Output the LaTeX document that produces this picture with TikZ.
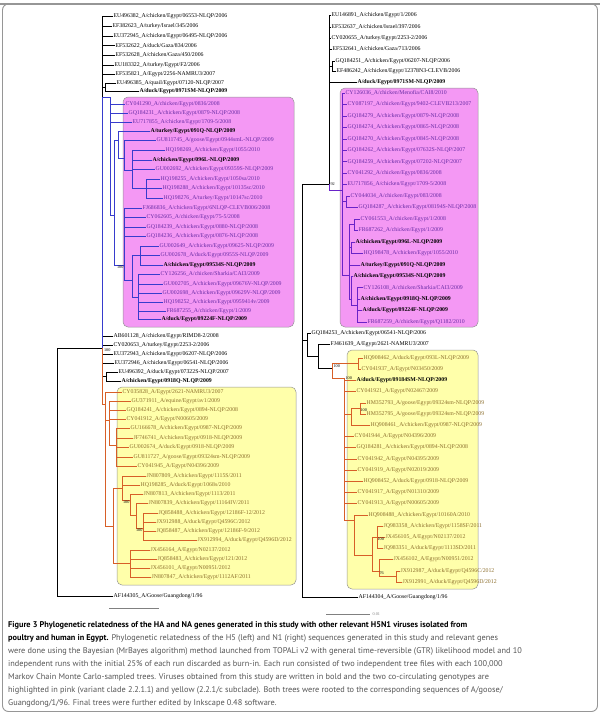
\documentclass[tikz,border=0pt]{standalone}
\usepackage{fontspec}
\setmainfont{Liberation Serif}
\setsansfont{PT Sans}
\newfontfamily\leaffont{Liberation Serif}
\definecolor{pinkbg}{RGB}{244,152,244}
\definecolor{yellowbg}{RGB}{255,255,170}
\definecolor{pinktxt}{RGB}{105,45,165}
\definecolor{yellowtxt}{RGB}{140,110,45}
\definecolor{hablue}{RGB}{55,60,205}
\definecolor{napurple}{RGB}{105,35,200}
\definecolor{orangebr}{RGB}{215,95,40}
\definecolor{captxt}{RGB}{85,85,85}
\definecolor{framegray}{RGB}{150,150,150}
\tikzstyle{leaf}=[anchor=west, inner sep=0.4pt, font=\leaffont\fontsize{5.8}{6}\selectfont]
\tikzstyle{bleaf}=[leaf, font=\leaffont\bfseries\fontsize{5.8}{6}\selectfont]
\tikzstyle{pleaf}=[leaf, text=pinktxt]
\tikzstyle{yleaf}=[leaf, text=yellowtxt]
\tikzstyle{br}=[line width=0.45pt]
\tikzstyle{bbr}=[br, draw=hablue]
\tikzstyle{pbr}=[br, draw=napurple]
\tikzstyle{obr}=[br, draw=orangebr]
\tikzstyle{clade}=[rounded corners=5pt, draw=framegray, line width=0.5pt]
\tikzstyle{boot}=[font=\leaffont\fontsize{4.2}{4.5}\selectfont, inner sep=0.4pt]
\tikzstyle{caption}=[anchor=north west, inner sep=0pt, align=left, text=captxt,
  font=\sffamily\fontsize{8.3}{12.9}\selectfont]

\begin{document}
\begin{tikzpicture}[x=1pt, y=-1pt]
    \useasboundingbox (0,0) rectangle (600,715);
    \draw[framegray, line width=0.9pt, rounded corners=6pt] (2.5,4) rectangle (597.5,711.5);
    \draw[framegray, line width=2pt] (0,4)--(600,4);

    \filldraw[clade, fill=pinkbg] (123,97) rectangle (294,327);
    \filldraw[clade, fill=yellowbg] (117,387) rectangle (296,585);
    \filldraw[clade, fill=pinkbg] (340,88) rectangle (478,327);
    \filldraw[clade, fill=yellowbg] (347,350) rectangle (478,589);

    % H5 tree
    \coordinate (hroot) at (57,472);
    \coordinate (hin) at (102,348);
    \coordinate (hg1) at (105,87);
    \coordinate (hp) at (110,97);
    \coordinate (hpA) at (114,215);
    \coordinate (hpB) at (118,140);
    \coordinate (hpB1) at (124,158);
    \coordinate (hpB2) at (132,170);
    \coordinate (hpB3) at (146,188);
    \coordinate (hpC) at (124,265);
    \coordinate (hpC1) at (132,280);
    \coordinate (hpC2) at (140,255);
    \coordinate (hpC3) at (138,297);
    \coordinate (hmg) at (106,376.5);
    \coordinate (hy) at (105,404);
    \coordinate (hyA) at (109,420);
    \coordinate (hyA1) at (116,445);
    \coordinate (hyB) at (113,526);
    \coordinate (hyB1) at (122,488);
    \coordinate (hyB1a) at (130,500);
    \coordinate (hyB1b) at (136,515);
    \coordinate (hyB1c) at (143,528);
    \coordinate (hyB2) at (130,563);

    \node[leaf] (h1) at (113,16) {EU496382\_A/chicken/Egypt/06553-NLQP/2006};
    \node[leaf] (h2) at (112,26) {EF382623\_A/turkey/Israel/345/2006};
    \node[leaf] (h3) at (113,36) {EU372945\_A/chicken/Egypt/06495-NLQP/2006};
    \node[leaf] (h4) at (115,45.5) {EF532622\_A/duck/Gaza/834/2006};
    \node[leaf] (h5) at (115,55) {EF532628\_A/chicken/Gaza/450/2006};
    \node[leaf] (h6) at (114,65) {EU183322\_A/turkey/Egypt/F2/2006};
    \node[leaf] (h7) at (115,74) {EF535821\_A/Egypt/2256-NAMRU3/2007};
    \node[leaf] (h8) at (116,83) {EU496385\_A/quail/Egypt/07120-NLQP/2007};
    \node[bleaf] (h9) at (139,91) {A/duck/Egypt/0971SM-NLQP/2009};

    \node[pleaf] (hp1) at (125,104) {CY041290\_A/chicken/Egypt/0836/2008};
    \node[pleaf] (hp2) at (128,113) {GQ184231\_A/chicken/Egypt/0879-NLQP/2008};
    \node[pleaf] (hp3) at (132,122) {EU717855\_A/chicken/Egypt/1709-5/2008};
    \node[bleaf] (hp4) at (150,131) {A/turkey/Egypt/091Q-NLQP/2009};
    \node[pleaf] (hp5) at (156,140) {GU811745\_A/goose/Egypt/0944smL-NLQP/2009};
    \node[pleaf] (hp6) at (165,150) {HQ198269\_A/chicken/Egypt/1055/2010};
    \node[bleaf] (hp7) at (152,160) {A/chicken/Egypt/096L-NLQP/2009};
    \node[pleaf] (hp8) at (155,169) {GU002692\_A/chicken/Egypt/09359S-NLQP/2009};
    \node[pleaf] (hp9) at (160,179) {HQ198255\_A/chicken/Egypt/1050sa/2010};
    \node[pleaf] (hp10) at (162,188) {HQ198288\_A/chicken/Egypt/10135sc/2010};
    \node[pleaf] (hp11) at (163,198) {HQ198276\_A/turkey/Egypt/10147sc/2010};
    \node[pleaf] (hp12) at (142,208) {FJ686836\_A/chicken/Egypt/6NLQP-CLEVB006/2008};
    \node[pleaf] (hp13) at (146,217) {CY062605\_A/chicken/Egypt/75-5/2008};
    \node[pleaf] (hp14) at (146,227) {GQ184239\_A/chicken/Egypt/0880-NLQP/2008};
    \node[pleaf] (hp15) at (146,236) {GQ184236\_A/chicken/Egypt/0876-NLQP/2008};
    \node[pleaf] (hp16) at (159,246) {GU002649\_A/chicken/Egypt/09625-NLQP/2009};
    \node[pleaf] (hp17) at (160,255) {GU002678\_A/duck/Egypt/0955S-NLQP/2009};
    \node[bleaf] (hp18) at (163,265) {A/chicken/Egypt/09534S-NLQP/2009};
    \node[pleaf] (hp19) at (160,274) {CY126256\_A/chicken/Sharkia/CAI3/2009};
    \node[pleaf] (hp20) at (163,284) {GU002705\_A/chicken/Egypt/09676V-NLQP/2009};
    \node[pleaf] (hp21) at (162,293) {GU002698\_A/chicken/Egypt/09629V-NLQP/2009};
    \node[pleaf] (hp22) at (163,302) {HQ198252\_A/chicken/Egypt/0959414v/2009};
    \node[pleaf] (hp23) at (166,311) {FR687255\_A/chicken/Egypt/1/2009};
    \node[bleaf] (hp24) at (161,319) {A/duck/Egypt/09224F-NLQP/2009};

    \node[leaf] (hm1) at (113,336) {AB601128\_A/chicken/Egypt/RIMD8-2/2008};
    \node[leaf] (hm2) at (113,345) {CY020653\_A/turkey/Egypt/2253-2/2006};
    \node[leaf] (hm3) at (113,354) {EU372943\_A/chicken/Egypt/06207-NLQP/2006};
    \node[leaf] (hm4) at (114,363) {EU372946\_A/chicken/Egypt/06541-NLQP/2006};
    \node[leaf] (hm5) at (118,372) {EU496392\_A/duck/Egypt/07322S-NLQP/2007};
    \node[bleaf] (hm6) at (121,381) {A/chicken/Egypt/0918Q-NLQP/2009};

    \node[yleaf] (hy1) at (122,392) {CY035828\_A/Egypt/2621-NAMRU3/2007};
    \node[yleaf] (hy2) at (131,401) {GU371911\_A/equine/Egypt/av1/2009};
    \node[yleaf] (hy3) at (126,410) {GQ184241\_A/chicken/Egypt/0894-NLQP/2008};
    \node[yleaf] (hy4) at (126,419) {CY041912\_A/Egypt/N00605/2009};
    \node[yleaf] (hy5) at (130,428) {GU166678\_A/chicken/Egypt/0987-NLQP/2009};
    \node[yleaf] (hy6) at (133,438) {JF746741\_A/chicken/Egypt/0918-NLQP/2009};
    \node[yleaf] (hy7) at (129,447) {GU002674\_A/duck/Egypt/0918-NLQP/2009};
    \node[yleaf] (hy8) at (133,457) {GU811727\_A/goose/Egypt/09324sm-NLQP/2009};
    \node[yleaf] (hy9) at (137,466) {CY041945\_A/Egypt/N04396/2009};
    \node[yleaf] (hy10) at (146,476) {JN807809\_A/chicken/Egypt/1115S/2011};
    \node[yleaf] (hy11) at (140,485) {HQ198285\_A/duck/Egypt/1068s/2010};
    \node[yleaf] (hy12) at (143,494) {JN807813\_A/chicken/Egypt/1113/2011};
    \node[yleaf] (hy13) at (148,503) {JN807839\_A/chicken/Egypt/11164IV/2011};
    \node[yleaf] (hy14) at (158,513) {JQ858488\_A/chicken/Egypt/12186F-12/2012};
    \node[yleaf] (hy15) at (156,522) {JX912988\_A/duck/Egypt/Q4596C/2012};
    \node[yleaf] (hy16) at (156,531) {JQ858487\_A/chicken/Egypt/12186F-9/2012};
    \node[yleaf] (hy17) at (197,540) {JX912994\_A/duck/Egypt/Q4596D/2012};
    \node[yleaf] (hy18) at (150,550) {JX456164\_A/Egypt/N02137/2012};
    \node[yleaf] (hy19) at (157,559) {JQ858483\_A/chicken/Egypt/121/2012};
    \node[yleaf] (hy20) at (150,568) {JX456101\_A/Egypt/N00951/2012};
    \node[yleaf] (hy21) at (151,577) {JN807847\_A/chicken/Egypt/1112AF/2011};

    \node[leaf] (hout) at (113,596) {AF144305\_A/Goose/Guangdong/1/96};

    \draw[br] (hroot) |- (hin) (hroot) |- (hout.west);
    \draw[br] (hin) |- (h1.west) (hin) |- (h2.west) (hin) |- (h3.west) (hin) |- (h4.west)
      (hin) |- (h5.west) (hin) |- (h6.west) (hin) |- (h7.west) (hin) |- (hg1);
    \draw[br] (hg1) |- (h8.west) (hg1) |- (h9.west);
    \draw[br] (hin) |- (hm1.west) (hin) |- (hm2.west) (hin) |- (hm3.west) (hin) |- (hm4.west)
      (hin) |- (hmg);
    \draw[br] (hmg) |- (hm5.west) (hmg) |- (hm6.west);
    \draw[bbr] (hin) |- (hp);
    \draw[bbr] (hp) |- (hp1.west) (hp) |- (hp2.west) (hp) |- (hp3.west) (hp) |- (hpA);
    \draw[bbr] (hpA) |- (hpB) (hpA) |- (hpC);
    \draw[bbr] (hpB) |- (hp4.west) (hpB) |- (hpB1);
    \draw[bbr] (hpB1) |- (hp5.west) (hpB1) |- (hpB2);
    \draw[bbr] (hpB2) |- (hp6.west) (hpB2) |- (hp7.west) (hpB2) |- (hp8.west) (hpB2) |- (hpB3);
    \draw[bbr] (hpB3) |- (hp9.west) (hpB3) |- (hp10.west) (hpB3) |- (hp11.west);
    \draw[bbr] (hpC) |- (hp12.west) (hpC) |- (hp13.west) (hpC) |- (hp14.west)
      (hpC) |- (hp15.west) (hpC) |- (hpC1);
    \draw[bbr] (hpC1) |- (hpC2) (hpC1) |- (hpC3);
    \draw[bbr] (hpC2) |- (hp16.west) (hpC2) |- (hp17.west) (hpC2) |- (hp18.west);
    \draw[bbr] (hpC3) |- (hp19.west) (hpC3) |- (hp20.west) (hpC3) |- (hp21.west)
      (hpC3) |- (hp22.west) (hpC3) |- (hp23.west) (hpC3) |- (hp24.west);
    \draw[obr] (hin) |- (hy);
    \draw[obr] (hy) |- (hy1.west) (hy) |- (hyA) (hy) |- (hyB);
    \draw[obr] (hyA) |- (hy2.west) (hyA) |- (hy3.west) (hyA) |- (hy4.west) (hyA) |- (hyA1);
    \draw[obr] (hyA1) |- (hy5.west) (hyA1) |- (hy6.west) (hyA1) |- (hy7.west)
      (hyA1) |- (hy8.west) (hyA1) |- (hy9.west);
    \draw[obr] (hyB) |- (hyB1) (hyB) |- (hyB2);
    \draw[obr] (hyB1) |- (hy10.west) (hyB1) |- (hy11.west) (hyB1) |- (hyB1a);
    \draw[obr] (hyB1a) |- (hy12.west) (hyB1a) |- (hyB1b);
    \draw[obr] (hyB1b) |- (hy13.west) (hyB1b) |- (hyB1c);
    \draw[obr] (hyB1c) |- (hy14.west) (hyB1c) |- (hy15.west) (hyB1c) |- (hy16.west)
      (hyB1c) |- (hy17.west);
    \draw[obr] (hyB2) |- (hy18.west) (hyB2) |- (hy19.west) (hyB2) |- (hy20.west)
      (hyB2) |- (hy21.west);

    \node[boot, anchor=north west] (hb1) at ([xshift=1.5pt]hin) {100};
    \node[boot, anchor=north east] (hb2) at (hpC) {100};
    \node[boot, anchor=north east] (hb3) at (hyB1a) {100};
    \node[boot, anchor=north east] (hb4) at (hyB1c) {100};

    % N1 tree
    \coordinate (nr) at (302,390.5);
    \coordinate (n92) at (329,184);
    \coordinate (nT) at (332,66);
    \coordinate (np) at (342,190);
    \coordinate (npA) at (346,201.7);
    \coordinate (npB) at (349,275);
    \coordinate (npC) at (354,224.7);
    \coordinate (npD) at (351,247.6);
    \coordinate (npE) at (351,299);
    \coordinate (npF) at (357,305);
    \coordinate (nE) at (307,340);
    \coordinate (nF) at (318,356);
    \coordinate (nY) at (332,368);
    \coordinate (nYa) at (358,363.6);
    \coordinate (nY1) at (344,378);
    \coordinate (nY2) at (351,414);
    \coordinate (nY2a) at (360,408.4);
    \coordinate (nY3) at (354,520);
    \coordinate (nY4) at (372,555);
    \coordinate (nY5) at (377,537.2);
    \coordinate (nY6) at (379,571);
    \coordinate (nY7) at (396,576.4);

    \node[leaf] (n1) at (331,15) {EU146891\_A/chicken/Egypt/1/2006};
    \node[leaf] (n2) at (331,27) {EF532637\_A/chicken/Israel/397/2006};
    \node[leaf] (n3) at (331,38) {CY020655\_A/turkey/Egypt/2253-2/2006};
    \node[leaf] (n4) at (332,49) {EF532641\_A/chicken/Gaza/713/2006};
    \node[leaf] (n5) at (335,61) {GQ184251\_A/chicken/Egypt/06207-NLQP/2006};
    \node[leaf] (n6) at (336,71) {EF486242\_A/chicken/Egypt/12378N3-CLEVB/2006};
    \node[bleaf] (n7) at (357,82) {A/duck/Egypt/0971SM-NLQP/2009};

    \node[pleaf] (q1) at (345,93) {CY126036\_A/chicken/Menofia/CAI8/2010};
    \node[pleaf] (q2) at (347,104.5) {CY087197\_A/chicken/Egypt/9402-CLEVB213/2007};
    \node[pleaf] (q3) at (347,116) {GQ184279\_A/chicken/Egypt/0879-NLQP/2008};
    \node[pleaf] (q4) at (347,127.4) {GQ184274\_A/chicken/Egypt/0865-NLQP/2008};
    \node[pleaf] (q5) at (347,138.8) {GQ184270\_A/chicken/Egypt/0845-NLQP/2008};
    \node[pleaf] (q6) at (347,150.3) {GQ184262\_A/chicken/Egypt/07632S-NLQP/2007};
    \node[pleaf] (q7) at (347,161.7) {GQ184259\_A/chicken/Egypt/07202-NLQP/2007};
    \node[pleaf] (q8) at (347,173.2) {CY041292\_A/chicken/Egypt/0836/2008};
    \node[pleaf] (q9) at (347,184.6) {EU717856\_A/chicken/Egypt/1709-5/2008};
    \node[pleaf] (q10) at (350,196) {CY044034\_A/chicken/Egypt/083/2008};
    \node[pleaf] (q11) at (358,207.5) {GQ184287\_A/chicken/Egypt/08194S-NLQP/2008};
    \node[pleaf] (q12) at (360,219) {CY061553\_A/chicken/Egypt/1/2008};
    \node[pleaf] (q13) at (358,230.4) {FR687262\_A/chicken/Egypt/1/2009};
    \node[bleaf] (q14) at (355,241.9) {A/chicken/Egypt/096L-NLQP/2009};
    \node[pleaf] (q15) at (363,253.3) {HQ198478\_A/chicken/Egypt/1055/2010};
    \node[bleaf] (q16) at (360,264.8) {A/turkey/Egypt/091Q-NLQP/2009};
    \node[bleaf] (q17) at (353,276.2) {A/chicken/Egypt/09534S-NLQP/2009};
    \node[pleaf] (q18) at (363,287.7) {CY126108\_A/chicken/Sharkia/CAI3/2009};
    \node[bleaf] (q19) at (360,299.1) {A/chicken/Egypt/0918Q-NLQP/2009};
    \node[bleaf] (q20) at (362,310.6) {A/duck/Egypt/09224F-NLQP/2009};
    \node[pleaf] (q21) at (367,322) {FR687259\_A/chicken/Egypt/Q1182/2010};

    \node[leaf] (g1) at (311,333) {GQ184253\_A/chicken/Egypt/06541-NLQP/2006};
    \node[leaf] (g2) at (330,344) {FJ461639\_A/Egypt/2621-NAMRU3/2007};

    \node[yleaf] (r1) at (363,358) {HQ908462\_A/duck/Egypt/093L-NLQP/2009};
    \node[yleaf] (r2) at (361,369.2) {CY041937\_A/Egypt/N03450/2009};
    \node[bleaf] (r3) at (356,380.4) {A/duck/Egypt/09184SM-NLQP/2009};
    \node[yleaf] (r4) at (356,391.6) {CY041921\_A/Egypt/N02467/2009};
    \node[yleaf] (r5) at (366,402.8) {HM352793\_A/goose/Egypt/09324sm-NLQP/2009};
    \node[yleaf] (r6) at (366,414) {HM352795\_A/goose/Egypt/09324sm-NLQP/2009};
    \node[yleaf] (r7) at (370,425.2) {HQ908461\_A/chicken/Egypt/0987-NLQP/2009};
    \node[yleaf] (r8) at (354,436.4) {CY041944\_A/Egypt/N04396/2009};
    \node[yleaf] (r9) at (356,447.6) {GQ184281\_A/chicken/Egypt/0894-NLQP/2008};
    \node[yleaf] (r10) at (357,458.8) {CY041942\_A/Egypt/N04395/2009};
    \node[yleaf] (r11) at (357,470) {CY041919\_A/Egypt/N02019/2009};
    \node[yleaf] (r12) at (363,481.2) {HQ908452\_A/duck/Egypt/0918-NLQP/2009};
    \node[yleaf] (r13) at (357,492.4) {CY041917\_A/Egypt/N01310/2009};
    \node[yleaf] (r14) at (357,503.6) {CY041913\_A/Egypt/N00605/2009};
    \node[yleaf] (r15) at (368,514.8) {HQ908488\_A/chicken/Egypt/10160A/2010};
    \node[yleaf] (r16) at (383,526) {JQ983358\_A/chicken/Egypt/1158SF/2011};
    \node[yleaf] (r17) at (385,537.2) {JX456105\_A/Egypt/N02137/2012};
    \node[yleaf] (r18) at (383,548.4) {JQ983351\_A/duck/Egypt/1113SD/2011};
    \node[yleaf] (r19) at (393,559.6) {JX456102\_A/Egypt/N00951/2012};
    \node[yleaf] (r20) at (400,570.8) {JX912987\_A/duck/Egypt/Q4596C/2012};
    \node[yleaf] (r21) at (402,582) {JX912991\_A/duck/Egypt/Q4596D/2012};

    \node[leaf] (nout) at (358,597) {AF144304\_A/Goose/Guangdong/1/96};

    \draw[br] (nr) |- (n92) (nr) |- (nE) (nr) |- (nout.west);
    \draw[br] (n92) |- (n1.west) (n92) |- (n2.west) (n92) |- (n3.west) (n92) |- (n4.west)
      (n92) |- (nT) (n92) |- (n7.west);
    \draw[br] (nT) |- (n5.west) (nT) |- (n6.west);
    \draw[br] (nE) |- (g1.west) (nE) |- (nF);
    \draw[br] (nF) |- (g2.west) (nF) |- (nY);
    \draw[pbr] (n92) |- (np);
    \draw[pbr] (np) |- (q1.west) (np) |- (q2.west) (np) |- (q3.west) (np) |- (q4.west)
      (np) |- (q5.west) (np) |- (q6.west) (np) |- (q7.west) (np) |- (q8.west)
      (np) |- (q9.west) (np) |- (npA) (np) |- (npB);
    \draw[pbr] (npA) |- (q10.west) (npA) |- (q11.west);
    \draw[pbr] (npB) |- (npC) (npB) |- (npD) (npB) |- (q16.west) (npB) |- (npE);
    \draw[pbr] (npC) |- (q12.west) (npC) |- (q13.west);
    \draw[pbr] (npD) |- (q14.west) (npD) |- (q15.west);
    \draw[pbr] (npE) |- (q17.west) (npE) |- (npF);
    \draw[pbr] (npF) |- (q18.west) (npF) |- (q19.west) (npF) |- (q20.west) (npF) |- (q21.west);
    \draw[obr] (nY) |- (nYa) (nY) |- (nY1);
    \draw[obr] (nYa) |- (r1.west) (nYa) |- (r2.west);
    \draw[obr] (nY1) |- (r3.west) (nY1) |- (r4.west) (nY1) |- (nY2) (nY1) |- (r8.west)
      (nY1) |- (r9.west) (nY1) |- (r10.west) (nY1) |- (r11.west) (nY1) |- (r12.west)
      (nY1) |- (r13.west) (nY1) |- (r14.west) (nY1) |- (nY3);
    \draw[obr] (nY2) |- (nY2a) (nY2) |- (r7.west);
    \draw[obr] (nY2a) |- (r5.west) (nY2a) |- (r6.west);
    \draw[obr] (nY3) |- (r15.west) (nY3) |- (nY4);
    \draw[obr] (nY4) |- (nY5) (nY4) |- (nY6);
    \draw[obr] (nY5) |- (r16.west) (nY5) |- (r17.west) (nY5) |- (r18.west);
    \draw[obr] (nY6) |- (r19.west) (nY6) |- (nY7);
    \draw[obr] (nY7) |- (r20.west) (nY7) |- (r21.west);

    \node[boot, anchor=west] (nb1) at ([xshift=1pt]n92) {92};
    \node[boot, anchor=south west] (nb2) at ([xshift=1pt]nY) {100};
    \node[boot, anchor=west] (nb3) at ([xshift=1pt]nY1) {100};
    \node[boot, anchor=north west] (nb4) at (nY2a) {100};
    \node[boot, anchor=north west] (nb5) at (nY5) {100};
    \node[boot, anchor=north west] (nb6) at (nY6) {76};

    \draw[br, gray] (109,608) -- (159,608);
    \draw[br, gray] (326,614) -- (370,614);
    \node[boot, anchor=west, text=gray] (sbl) at (372,614) {0.01};

    \node[caption] (cap) at (8,621.5) {%
      {\color{black}\bfseries Figure 3 Phylogenetic relatedness of the HA and NA genes generated in this study with other relevant H5N1 viruses isolated from}\\
      {\color{black}\bfseries poultry and human in Egypt.} Phylogenetic relatedness of the H5 (left) and N1 (right) sequences generated in this study and relevant genes\\
      were done using the Bayesian (MrBayes algorithm) method launched from TOPALi v2 with general time-reversible (GTR) likelihood model and 10\\
      independent runs with the initial 25\% of each run discarded as burn-in. Each run consisted of two independent tree files with each 100,000\\
      Markov Chain Monte Carlo-sampled trees. Viruses obtained from this study are written in bold and the two co-circulating genotypes are\\
      highlighted in pink (variant clade 2.2.1.1) and yellow (2.2.1/c subclade). Both trees were rooted to the corresponding sequences of A/goose/\\
      Guangdong/1/96. Final trees were further edited by Inkscape 0.48 software.};
  \end{tikzpicture}
\end{document}
